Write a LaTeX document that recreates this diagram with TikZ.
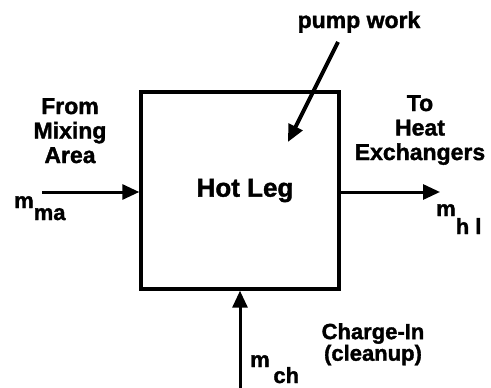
\documentclass[tikz,border=0pt]{standalone}
\usepackage{fontspec}
\setmainfont{Liberation Sans}[BoldFeatures={FakeBold=1.5}]
\usepackage{tikz}
\usetikzlibrary{arrows.meta}
\usetikzlibrary{positioning}

\tikzset{
  flow/.style={-{Triangle[length=17pt,width=15pt]},line width=3pt},
  lbl/.style={font=\bfseries\fontsize{23}{24.5}\selectfont,inner sep=0pt,align=center},
  sym/.style={font=\bfseries\fontsize{22}{24}\selectfont,inner sep=0pt,anchor=base west},
}

\begin{document}
\begin{tikzpicture}[x=1pt,y=-1pt]
    \useasboundingbox (0,0) rectangle (491,388);
    % control volume
    \node[draw,line width=3.4pt,minimum width=198pt,minimum height=197pt,inner sep=0pt,
      font=\bfseries\fontsize{26}{28}\selectfont] (hotleg) at (240,190.5) {\hspace*{10pt}Hot Leg};
    % free ends of the streams
    \coordinate (mixin) at (42,192);
    \coordinate (hxout) at (440,192);
    \coordinate (chin) at (240,388);
    \coordinate (pwtail) at (338,42);
    \coordinate (pwtip) at (288,142);
    % streams
    \draw[flow] (mixin) -- (mixin -| hotleg.west);
    \draw[flow] (hotleg.east |- hxout) -- (hxout);
    \draw[flow] (chin) -- (hotleg.south);
    \draw[flow,line width=4pt] (pwtail) -- (pwtip);
    % labels
    \node[lbl,anchor=base] (pump) at (359,28) {pump work};
    \node[lbl,anchor=north] (from) at (70,98) {From\\Mixing\\Area};
    \node[lbl,anchor=north] (toheat) at (420,95) {To\\Heat\\Exchangers};
    \node[lbl,anchor=north,font=\bfseries\fontsize{22}{20}\selectfont] (charge) at (373,323)
      {Charge-In\\(cleanup)};
    \node[sym] (mma) at (14,208) {m\lower12pt\hbox{ma}};
    \node[sym] (mhl) at (436,216) {m\lower18pt\hbox{h l}};
    \node[sym] (mch) at (250,367) {m\lower16pt\hbox{\,ch}};
  \end{tikzpicture}
\end{document}
